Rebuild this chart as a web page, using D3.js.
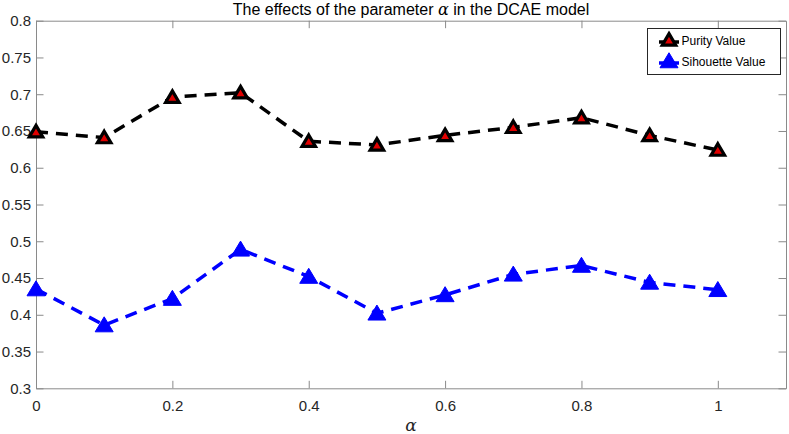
<!DOCTYPE html>
<html>
<head>
<meta charset="utf-8">
<script src="https://cdn.jsdelivr.net/npm/d3@7"></script>
<style>
  body { margin: 0; background: #fff; }
  svg { display: block; font-family: "Liberation Sans", Arial, Helvetica, sans-serif; }
</style>
</head>
<body>
<div id="chart"></div>
<script>
// data
var alphas = [0, 0.1, 0.2, 0.3, 0.4, 0.5, 0.6, 0.7, 0.8, 0.9, 1];
var purity = [0.649, 0.641, 0.696, 0.702, 0.636, 0.631, 0.644, 0.655, 0.668, 0.644, 0.624];
var silhouette = [0.435, 0.386, 0.422, 0.489, 0.452, 0.402, 0.427, 0.455, 0.467, 0.444, 0.434];
var xTicks = [0, 0.2, 0.4, 0.6, 0.8, 1];
var yTicks = [0.3, 0.35, 0.4, 0.45, 0.5, 0.55, 0.6, 0.65, 0.7, 0.75, 0.8];
var seriesNames = ["Purity Value", "Sihouette Value"];

var svgWidth = 789;
var svgHeight = 434;

var margin = { top: 20.7, right: 3, bottom: 45.7, left: 36 };
var width = svgWidth - margin.left - margin.right;
var height = svgHeight - margin.top - margin.bottom;

var axisColor = "#8a8a8a";
var textColor = "#262626";
var tickLen = 7.5;

var svg = d3.select("#chart")
  .append("svg")
  .attr("width", svgWidth)
  .attr("height", svgHeight);

var chartGroup = svg.append("g")
  .attr("transform", `translate(${margin.left}, ${margin.top})`);

var xScale = d3.scaleLinear().domain([0, 1.1]).range([0, width]);
var yScale = d3.scaleLinear().domain([0.3, 0.8]).range([height, 0]);

// axes (MATLAB style: ticks point inward, box on)
var bottomAxis = d3.axisBottom(xScale).tickValues(xTicks).tickSizeInner(-tickLen).tickSizeOuter(0)
  .tickPadding(12).tickFormat(d3.format("~g"));
var leftAxis = d3.axisLeft(yScale).tickValues(yTicks).tickSizeInner(-tickLen).tickSizeOuter(0)
  .tickPadding(5).tickFormat(d3.format("~g"));
var topAxis = d3.axisTop(xScale).tickValues(xTicks).tickSizeInner(-tickLen).tickSizeOuter(0).tickFormat("");
var rightAxis = d3.axisRight(yScale).tickValues(yTicks).tickSizeInner(-tickLen).tickSizeOuter(0).tickFormat("");

function styleAxis(g) {
  g.select(".domain").attr("stroke", axisColor).attr("stroke-width", 1);
  g.selectAll(".tick line").attr("stroke", axisColor).attr("stroke-width", 1);
  g.selectAll(".tick text").attr("fill", textColor).attr("font-size", "15px")
    .attr("font-family", "'Liberation Sans', Arial, sans-serif");
}

chartGroup.append("g").attr("transform", `translate(0, ${height})`).call(bottomAxis).call(styleAxis);
chartGroup.append("g").call(leftAxis).call(styleAxis);
chartGroup.append("g").call(topAxis).call(styleAxis);
chartGroup.append("g").attr("transform", `translate(${width}, 0)`).call(rightAxis).call(styleAxis);

// triangle marker relative to its centre
function triangle(w, h) {
  return `M0,${-h * 0.55}L${w / 2},${h * 0.45}L${-w / 2},${h * 0.45}Z`;
}

var line = d3.line()
  .x(function(d, i) { return xScale(alphas[i]); })
  .y(function(d) { return yScale(d); });

// Purity
chartGroup.append("path")
  .datum(purity)
  .attr("d", line)
  .attr("fill", "none")
  .attr("stroke", "#000")
  .attr("stroke-width", 3.5)
  .attr("stroke-dasharray", "12,8");

chartGroup.selectAll(".purityMark").data(purity).enter()
  .append("path")
  .attr("class", "purityMark")
  .attr("transform", (d, i) => `translate(${xScale(alphas[i])}, ${yScale(d)})`)
  .attr("d", triangle(13.5, 11.5))
  .attr("fill", "#e00000")
  .attr("stroke", "#000")
  .attr("stroke-width", 3.2)
  .attr("stroke-linejoin", "miter");

// Silhouette
chartGroup.append("path")
  .datum(silhouette)
  .attr("d", line)
  .attr("fill", "none")
  .attr("stroke", "#0000ff")
  .attr("stroke-width", 3.5)
  .attr("stroke-dasharray", "12,8");

chartGroup.selectAll(".silMark").data(silhouette).enter()
  .append("path")
  .attr("class", "silMark")
  .attr("transform", (d, i) => `translate(${xScale(alphas[i])}, ${yScale(d)})`)
  .attr("d", triangle(18, 15))
  .attr("fill", "#0000ff")
  .attr("stroke", "#0000ff")
  .attr("stroke-width", 1);

// title
svg.append("text")
  .attr("x", margin.left + width / 2)
  .attr("y", 15)
  .attr("text-anchor", "middle")
  .attr("font-size", "16px")
  .attr("fill", "#000")
  .call(function(t) {
    t.append("tspan").text("The effects of the parameter ");
    t.append("tspan").attr("font-family", "'DejaVu Serif', 'Liberation Serif', serif").attr("font-style", "italic").text("α");
    t.append("tspan").text(" in the DCAE model");
  });

// x label
svg.append("text")
  .attr("x", margin.left + width / 2)
  .attr("y", 431)
  .attr("text-anchor", "middle")
  .attr("font-size", "17px")
  .attr("font-family", "'DejaVu Serif', 'Liberation Serif', serif")
  .attr("font-style", "italic")
  .attr("fill", textColor)
  .text("α");

// legend
var legend = svg.append("g");
legend.append("rect")
  .attr("x", 647.5).attr("y", 28.5)
  .attr("width", 133).attr("height", 46)
  .attr("fill", "#fff")
  .attr("stroke", "#262626")
  .attr("stroke-width", 1);

var legendY = [40, 61];
seriesNames.forEach(function(name, i) {
  var col = i === 0 ? "#000" : "#0000ff";
  legend.append("line")
    .attr("x1", 659).attr("x2", 679)
    .attr("y1", legendY[i] + 2).attr("y2", legendY[i] + 2)
    .attr("stroke", col).attr("stroke-width", 3.5);
  legend.append("path")
    .attr("transform", `translate(669, ${legendY[i]})`)
    .attr("d", i === 0 ? triangle(13.5, 11.5) : triangle(18, 15))
    .attr("fill", i === 0 ? "#e00000" : "#0000ff")
    .attr("stroke", col)
    .attr("stroke-width", i === 0 ? 3.2 : 1);
  legend.append("text")
    .attr("x", 681.5)
    .attr("y", legendY[i] + 5)
    .attr("font-size", "12px")
    .attr("fill", "#000")
    .text(name);
});
</script>
</body>
</html>
